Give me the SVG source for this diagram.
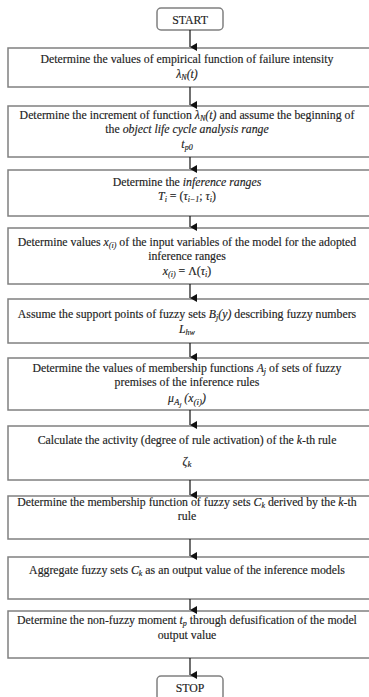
<svg xmlns="http://www.w3.org/2000/svg" width="369" height="697" viewBox="0 0 369 697">
<defs>
<marker id="ah" markerWidth="8" markerHeight="8" refX="4" refY="7" orient="auto" markerUnits="userSpaceOnUse">
<path d="M0,0 L8,0 L4,7 Z" fill="#111"/>
</marker>
<style>
.box{fill:#fff;stroke:#808080;stroke-width:1.5}
.term{fill:#fff;stroke:#808080;stroke-width:1.5}
text{font-family:"Liberation Serif","Times New Roman",serif;font-size:11.8px;fill:#222;stroke:#222;stroke-width:0.15;text-anchor:middle}
.i{font-style:italic}
.c line{stroke:#111;stroke-width:1.2}
</style>
</defs>
<rect width="369" height="697" fill="#fff"/>
<g font-family="Liberation Serif, serif">
<g id="start"><rect class="term" x="157" y="8" width="66" height="22" rx="4"/><text x="190" y="23.5">START</text></g>
<g id="n1"><rect class="box" x="8" y="48" width="364" height="39"/>
<text x="187" y="63">Determine the values of empirical function of failure intensity</text>
<text x="187" y="78" class="i">λ<tspan font-size="8" dy="1.5">N</tspan><tspan dy="-1.5">(t)</tspan></text></g>
<g id="n2"><rect class="box" x="8" y="106" width="364" height="51"/>
<text x="187" y="119">Determine the increment of function <tspan class="i">λ<tspan font-size="8" dy="1.5">N</tspan><tspan dy="-1.5">(t)</tspan></tspan> and assume the beginning of</text>
<text x="187" y="133">the <tspan class="i">object life cycle analysis range</tspan></text>
<text x="187" y="148" class="i">t<tspan font-size="8" dy="1.5">p0</tspan></text></g>
<g id="n3"><rect class="box" x="8" y="170" width="364" height="46"/>
<text x="187" y="186">Determine the <tspan class="i">inference ranges</tspan></text>
<text x="187" y="200"><tspan class="i">T<tspan font-size="8" dy="1.5">i</tspan></tspan><tspan dy="-1.5"> = (</tspan><tspan class="i">τ<tspan font-size="8" dy="1.5">i−1</tspan></tspan><tspan dy="-1.5">; </tspan><tspan class="i">τ<tspan font-size="8" dy="1.5">i</tspan></tspan><tspan dy="-1.5">)</tspan></text></g>
<g id="n4"><rect class="box" x="8" y="228" width="364" height="56"/>
<text x="187" y="246">Determine values <tspan class="i">x<tspan font-size="8" dy="1.5">(i)</tspan></tspan><tspan dy="-1.5"> of the input variables of the model for the adopted</tspan></text>
<text x="187" y="260">inference ranges</text>
<text x="187" y="275"><tspan class="i">x<tspan font-size="8" dy="1.5">(i)</tspan></tspan><tspan dy="-1.5"> = Λ(</tspan><tspan class="i">τ<tspan font-size="8" dy="1.5">i</tspan></tspan><tspan dy="-1.5">)</tspan></text></g>
<g id="n5"><rect class="box" x="8" y="299" width="364" height="44"/>
<text x="187" y="318">Assume the support points of fuzzy sets <tspan class="i">B<tspan font-size="8" dy="1.5">j</tspan><tspan dy="-1.5">(y)</tspan></tspan> describing fuzzy numbers</text>
<text x="187" y="333" class="i">L<tspan font-size="8" dy="1.5">hw</tspan></text></g>
<g id="n6"><rect class="box" x="8" y="358" width="364" height="52"/>
<text x="187" y="372">Determine the values of membership functions <tspan class="i">A<tspan font-size="8" dy="1.5">j</tspan></tspan><tspan dy="-1.5"> of sets of fuzzy</tspan></text>
<text x="187" y="386">premises of the inference rules</text>
<text x="187" y="402" font-size="14" class="i">μ<tspan font-size="9" dy="3">A<tspan font-size="7" dy="2">j</tspan></tspan><tspan dy="-5"> (x</tspan><tspan font-size="9" dy="3">(i)</tspan><tspan dy="-3">)</tspan></text></g>
<g id="n7"><rect class="box" x="8" y="426" width="364" height="54"/>
<text x="187" y="444">Calculate the activity (degree of rule activation) of the  <tspan class="i">k</tspan>-th rule</text>
<text x="187" y="465" font-size="14" class="i">ζ<tspan font-size="9" dy="2">k</tspan></text></g>
<g id="n8"><rect class="box" x="8" y="496" width="364" height="43"/>
<text x="187" y="506">Determine the membership function of fuzzy sets <tspan class="i">C<tspan font-size="8" dy="1.5">k</tspan></tspan><tspan dy="-1.5"> derived by the </tspan><tspan class="i">k</tspan>-th</text>
<text x="187" y="520">rule</text></g>
<g id="n9"><rect class="box" x="8" y="557" width="364" height="42"/>
<text x="187" y="574">Aggregate fuzzy sets <tspan class="i">C<tspan font-size="8" dy="1.5">k</tspan></tspan><tspan dy="-1.5"> as an output value of the inference models</tspan></text></g>
<g id="n10"><rect class="box" x="8" y="611" width="364" height="47"/>
<text x="187" y="624">Determine the non-fuzzy moment <tspan class="i">t<tspan font-size="8" dy="1.5">p</tspan></tspan><tspan dy="-1.5"> through defusification of the model</tspan></text>
<text x="187" y="639">output value</text></g>
<g id="stop"><rect class="term" x="157" y="676" width="66" height="24" rx="4"/><text x="190" y="691.5">STOP</text></g>
</g>
<g class="c" id="connectors">
<line x1="190" y1="30" x2="190" y2="47" marker-end="url(#ah)"/>
<line x1="190" y1="87" x2="190" y2="105" marker-end="url(#ah)"/>
<line x1="190" y1="157" x2="190" y2="169" marker-end="url(#ah)"/>
<line x1="190" y1="216" x2="190" y2="227" marker-end="url(#ah)"/>
<line x1="190" y1="284" x2="190" y2="298" marker-end="url(#ah)"/>
<line x1="190" y1="343" x2="190" y2="357" marker-end="url(#ah)"/>
<line x1="190" y1="410" x2="190" y2="425" marker-end="url(#ah)"/>
<line x1="190" y1="480" x2="190" y2="495" marker-end="url(#ah)"/>
<line x1="190" y1="539" x2="190" y2="556" marker-end="url(#ah)"/>
<line x1="190" y1="599" x2="190" y2="610" marker-end="url(#ah)"/>
<line x1="190" y1="658" x2="190" y2="675" marker-end="url(#ah)"/>
</g>
</svg>
